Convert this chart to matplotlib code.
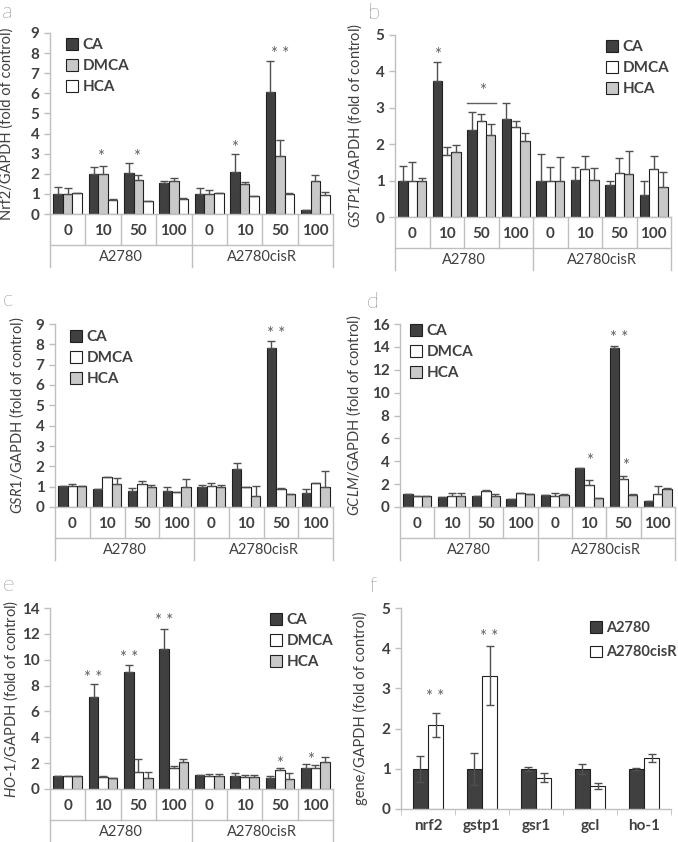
import matplotlib
matplotlib.use("Agg")
import matplotlib.pyplot as plt
import numpy as np
from matplotlib.patches import Patch
from matplotlib.transforms import blended_transform_factory

plt.rcParams['font.family'] = ['Lato', 'DejaVu Sans']
plt.rcParams['mathtext.fontset'] = 'custom'
plt.rcParams['mathtext.rm'] = 'Lato'
plt.rcParams['mathtext.it'] = 'Lato:italic'

W, H = 678, 842

doses = ['0', '10', '50', '100', '0', '10', '50', '100']
lines = ['A2780', 'A2780cisR']

# a: Nrf2
a_ca = [1.0, 2.0, 2.05, 1.53, 1.0, 2.08, 6.05, 0.2]
a_ca_err = [0.33, 0.35, 0.47, 0.09, 0.28, 0.89, 1.58, 0.02]
a_dmca = [1.0, 1.97, 1.68, 1.65, 0.98, 1.5, 2.88, 1.65]
a_dmca_err = [0.3, 0.4, 0.27, 0.13, 0.2, 0.1, 0.82, 0.3]
a_hca = [1.03, 0.7, 0.63, 0.73, 1.02, 0.88, 0.98, 0.95]
a_hca_err = [0.02, 0.07, 0.0, 0.09, 0.01, 0.02, 0.07, 0.13]

# b: GSTP1
b_ca = [1.0, 3.75, 2.4, 2.68, 1.0, 1.03, 0.87, 0.6]
b_ca_err = [0.4, 0.5, 0.48, 0.44, 0.73, 0.34, 0.13, 0.38]
b_dmca = [1.0, 1.7, 2.63, 2.47, 1.0, 1.33, 1.22, 1.33]
b_dmca_err = [0.5, 0.23, 0.19, 0.18, 0.37, 0.34, 0.4, 0.34]
b_hca = [1.0, 1.78, 2.25, 2.1, 1.0, 1.02, 1.18, 0.83]
b_hca_err = [0.06, 0.2, 0.3, 0.22, 0.65, 0.33, 0.64, 0.42]

# c: GSR1
c_ca = [1.05, 0.87, 0.8, 0.77, 1.0, 1.85, 7.82, 0.67]
c_ca_err = [0.0, 0.0, 0.15, 0.21, 0.08, 0.33, 0.33, 0.21]
c_dmca = [1.02, 1.48, 1.12, 0.73, 1.03, 0.97, 0.88, 1.17]
c_dmca_err = [0.13, 0.02, 0.18, 0.02, 0.15, 0.03, 0.05, 0.03]
c_hca = [1.02, 1.15, 1.0, 1.0, 1.0, 0.52, 0.62, 0.97]
c_hca_err = [0.0, 0.3, 0.08, 0.38, 0.1, 0.51, 0.03, 0.8]

# d: GCLM
d_ca = [1.1, 0.9, 0.95, 0.68, 1.05, 3.4, 13.9, 0.5]
d_ca_err = [0, 0, 0, 0, 0, 0, 0.2, 0]
d_dmca = [1.0, 1.0, 1.4, 1.2, 1.0, 1.9, 2.45, 1.15]
d_dmca_err = [0.0, 0.25, 0.1, 0.05, 0.2, 0.5, 0.25, 0.7]
d_hca = [1.0, 0.95, 1.0, 1.12, 1.05, 0.75, 1.05, 1.6]
d_hca_err = [0.0, 0.25, 0.1, 0.03, 0.05, 0.05, 0.05, 0.05]

# e: HO-1
e_ca = [1.0, 7.1, 9.05, 10.8, 1.05, 1.0, 0.85, 1.65]
e_ca_err = [0, 1.0, 0.55, 1.6, 0.0, 0.2, 0.15, 0.25]
e_dmca = [1.0, 0.95, 1.3, 1.6, 1.0, 0.95, 1.5, 1.65]
e_dmca_err = [0, 0.05, 1.0, 0.15, 0.15, 0.1, 0.1, 0.2]
e_hca = [1.0, 0.85, 0.88, 2.1, 0.97, 0.9, 0.8, 2.05]
e_hca_err = [0, 0.02, 0.47, 0.25, 0.16, 0.15, 0.4, 0.45]

# f: basal levels
genes = ['nrf2', 'gstp1', 'gsr1', 'gcl', 'ho-1']
f_a2780 = [1.0, 1.0, 1.0, 1.0, 1.0]
f_a2780_err = [0.33, 0.4, 0.05, 0.12, 0.02]
f_cisr = [2.1, 3.32, 0.78, 0.57, 1.28]
f_cisr_err = [0.3, 0.73, 0.12, 0.08, 0.1]

DARK = '#404040'
LIGHT = '#c8c8c8'
WHITE = '#ffffff'
GRID = '#bfbfbf'
TXT = '#404040'

fig = plt.figure(figsize=(W / 100, H / 100), dpi=100)


def make_axes(left, top, right, bottom):
    return fig.add_axes([left / W, 1 - bottom / H, (right - left) / W, (bottom - top) / H])


def style(ax, ymax, step):
    ax.set_ylim(0, ymax)
    ax.set_yticks(np.arange(0, ymax + 0.01, step))
    for s in ['top', 'right']:
        ax.spines[s].set_visible(False)
    for s in ['left', 'bottom']:
        ax.spines[s].set_color(GRID)
        ax.spines[s].set_linewidth(1.0)
    ax.tick_params(axis='y', colors=GRID, labelcolor=TXT, labelsize=11, length=4, width=1)
    for t in ax.get_yticklabels():
        t.set_fontweight('bold')


def set_ylabel(ax, text, xpx):
    ax.set_ylabel(text, fontsize=10.5, color=TXT)
    pos = ax.get_position()
    ax.yaxis.set_label_coords((xpx / W - pos.x0) / pos.width, 0.5)


def panel(ax, series, colors, names, ymax, step, ylabel, ylab_x, legend_xy, letter, letter_xy):
    n = len(doses)
    x = np.arange(n)
    w = 0.27
    for k, (vals, errs) in enumerate(series):
        pos = x + (k - 1) * w
        ax.bar(pos, vals, w, color=colors[k], edgecolor='#202020', linewidth=0.8, zorder=2)
        ax.errorbar(pos, vals, yerr=[np.zeros(n), errs], fmt='none', ecolor='#505050',
                    elinewidth=1.0, capsize=3, capthick=1.0, zorder=3)
    ax.set_xlim(-0.5, n - 0.5)
    ax.set_xticks([])
    style(ax, ymax, step)
    set_ylabel(ax, ylabel, ylab_x)

    # two-level category axis
    hpx = ax.get_position().height * H
    tr = blended_transform_factory(ax.transData, ax.transAxes)
    f = lambda px: -px / hpx
    for b in np.arange(-0.5, n, 1):
        full = b in (-0.5, 3.5, 7.5)
        ax.plot([b, b], [0, f(53 if full else 31)], transform=tr, color=GRID,
                lw=1.0, clip_on=False)
    ax.plot([-0.5, n - 0.5], [f(31), f(31)], transform=tr, color=GRID, lw=1.0, clip_on=False)
    for i, d in enumerate(doses):
        ax.text(i, f(17), d, transform=tr, ha='center', va='center', fontsize=11,
                fontweight='bold', color=TXT)
    for g, name in enumerate(lines):
        ax.text(1.5 + 4 * g, f(43), name, transform=tr, ha='center', va='center',
                fontsize=10.5, color=TXT)

    handles = [Patch(facecolor=c, edgecolor='#202020', linewidth=0.8) for c in colors]
    ax.legend(handles, names, loc='upper left', bbox_to_anchor=(legend_xy[0] / W, 1 - legend_xy[1] / H),
              bbox_transform=fig.transFigure, frameon=False, prop={'size': 11, 'weight': 'bold'},
              handlelength=0.8, handleheight=0.8, handletextpad=0.3, labelspacing=0.45,
              borderpad=0, borderaxespad=0, labelcolor=TXT)
    fig.text(letter_xy[0] / W, 1 - letter_xy[1] / H, letter, fontsize=16, fontweight='light',
             color='#202020', ha='center', va='center')


def star(ax, x, y, s):
    ax.text(x, y, s, ha='center', va='center', fontsize=12, color='#606060', zorder=4)


w = 0.27
names = ['CA', 'DMCA', 'HCA']

ax_a = make_axes(50, 33, 333, 214)
panel(ax_a, [(a_ca, a_ca_err), (a_dmca, a_dmca_err), (a_hca, a_hca_err)],
      [DARK, LIGHT, WHITE], names, 9, 1, 'Nrf2/GAPDH (fold of control)', 14,
      (66, 38), 'a', (7, 12))
star(ax_a, 1 - w / 2 + 0.05, 2.85, '*')
star(ax_a, 2 - 0.05, 2.85, '*')
star(ax_a, 5 - w, 3.3, '*')
star(ax_a, 6, 7.95, '* *')

ax_b = make_axes(395, 35, 671, 217)
panel(ax_b, [(b_ca, b_ca_err), (b_dmca, b_dmca_err), (b_hca, b_hca_err)],
      [DARK, WHITE, LIGHT], names, 5, 1, r'$\mathit{GSTP1}$/GAPDH (fold of control)', 364,
      (606, 40), 'b', (374, 13))
star(ax_b, 1 - w, 4.45, '*')
ax_b.plot([2 - 0.42, 2 + 0.42], [3.14, 3.14], color='#606060', lw=1.0)
star(ax_b, 2.05, 3.45, '*')

ax_c = make_axes(55, 324, 333, 507)
panel(ax_c, [(c_ca, c_ca_err), (c_dmca, c_dmca_err), (c_hca, c_hca_err)],
      [DARK, WHITE, LIGHT], names, 9, 1, r'$\mathit{GSR1}$/GAPDH (fold of control)', 26,
      (70, 330), 'c', (8, 300))
star(ax_c, 6 - w / 2, 8.5, '* *')

ax_d = make_axes(400, 324, 675, 507)
panel(ax_d, [(d_ca, d_ca_err), (d_dmca, d_dmca_err), (d_hca, d_hca_err)],
      [DARK, WHITE, LIGHT], names, 16, 2, r'$\mathit{GCLM}$/GAPDH (fold of control)', 363,
      (410, 324), 'd', (373, 302))
star(ax_d, 5, 4.0, '*')
star(ax_d, 6 - w / 2, 14.8, '* *')
star(ax_d, 6 + 0.05, 3.6, '*')

ax_e = make_axes(50, 608, 333, 789)
panel(ax_e, [(e_ca, e_ca_err), (e_dmca, e_dmca_err), (e_hca, e_hca_err)],
      [DARK, WHITE, LIGHT], names, 14, 2, r'$\mathit{HO\text{-}1}$/GAPDH (fold of control)', 20,
      (270, 613), 'e', (8, 585))
star(ax_e, 1 - w, 8.6, '* *')
star(ax_e, 2 - w, 10.1, '* *')
star(ax_e, 3 - w, 13.0, '* *')
star(ax_e, 6, 1.95, '*')
star(ax_e, 7 - w / 2, 2.25, '*')

# f
ax_f = make_axes(401, 608, 671, 809)
xf = np.arange(len(genes))
wf = 0.28
ax_f.bar(xf - wf / 2, f_a2780, wf, color=DARK, edgecolor='#202020', linewidth=0.8, zorder=2,
         label='A2780')
ax_f.bar(xf + wf / 2, f_cisr, wf, color=WHITE, edgecolor='#202020', linewidth=0.8, zorder=2,
         label='A2780cisR')
ax_f.errorbar(xf - wf / 2, f_a2780, yerr=f_a2780_err, fmt='none', ecolor='#505050',
              elinewidth=1.0, capsize=3, capthick=1.0, zorder=3)
ax_f.errorbar(xf + wf / 2, f_cisr, yerr=f_cisr_err, fmt='none', ecolor='#505050',
              elinewidth=1.0, capsize=3, capthick=1.0, zorder=3)
ax_f.set_xlim(-0.5, len(genes) - 0.5)
ax_f.set_xticks(xf)
ax_f.set_xticklabels(genes, fontsize=11, fontweight='bold', color=TXT)
ax_f.set_xticks(np.arange(-0.5, len(genes), 1), minor=True)
ax_f.tick_params(axis='x', which='major', length=0, pad=7)
ax_f.tick_params(axis='x', which='minor', length=4, color=GRID)
style(ax_f, 5, 1)
set_ylabel(ax_f, 'gene/GAPDH (fold of control)', 368)
ax_f.legend(loc='upper left', bbox_to_anchor=(590 / W, 1 - 621 / H), bbox_transform=fig.transFigure,
            frameon=False, prop={'size': 10.5, 'weight': 'bold'}, handlelength=0.8, handleheight=0.8,
            handletextpad=0.3, labelspacing=0.7, borderpad=0, borderaxespad=0, labelcolor=TXT)
fig.text(373 / W, 1 - 586 / H, 'f', fontsize=16, fontweight='light', color='#202020',
         ha='center', va='center')
star(ax_f, 0 + wf / 2, 2.78, '* *')
star(ax_f, 1 + wf / 2, 4.28, '* *')

fig.savefig('out.png', dpi=100)
